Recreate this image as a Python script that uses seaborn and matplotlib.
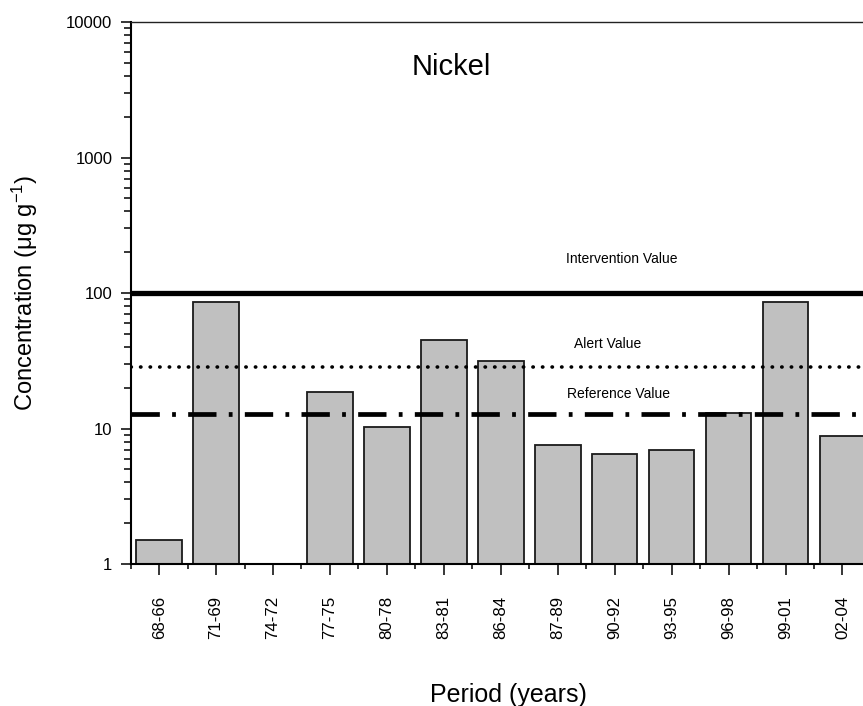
import numpy as np
import pandas as pd
import seaborn as sns
import matplotlib.pyplot as plt
from matplotlib.ticker import FixedLocator, LogLocator, NullFormatter

# data
periods = ['68-66', '71-69', '74-72', '77-75', '80-78', '83-81', '86-84',
           '87-89', '90-92', '93-95', '96-98', '99-01', '02-04']
nickel = [1.5, 86, np.nan, 18.7, 10.3, 45, 31.5, 7.55, 6.5, 7.0, 13.1, 86, 8.85]

intervention_value = 100
alert_value = 28.5
reference_value = 12.7

y_ticks = [1, 10, 100, 1000, 10000]
y_tick_labels = ['1', '10', '100', '1000', '10000']

df = pd.DataFrame({'period': periods, 'nickel': nickel})

sns.set_style('ticks')
plt.rcParams['font.family'] = ['Liberation Sans', 'DejaVu Sans']
plt.rcParams['mathtext.fontset'] = 'custom'
plt.rcParams['mathtext.rm'] = 'Liberation Sans'
plt.rcParams['mathtext.it'] = 'Liberation Sans:italic'
for key in ['text.color', 'axes.labelcolor', 'xtick.color', 'ytick.color']:
    plt.rcParams[key] = 'black'

fig = plt.figure(figsize=(8.63, 7.06), dpi=100)
ax = fig.add_axes([0.1514, 0.2011, 0.8578, 0.7677])

sns.barplot(data=df, x='period', y='nickel', order=periods, color='#c0c0c0',
            saturation=1, edgecolor='#1a1a1a', linewidth=1.3, width=0.8,
            errorbar=None, ax=ax, zorder=2)
ax.set_yscale('log')
ax.set_ylim(1, 10000)
ax.set_xlim(-0.5, len(periods) - 0.5)

# guideline values
ax.axhline(intervention_value, color='black', lw=3.8, zorder=3)
ax.axhline(alert_value, color='black', lw=2.6, linestyle=(0, (0.1, 2.55)),
           dash_capstyle='round', zorder=3)
ax.axhline(reference_value, color='black', lw=3.4,
           linestyle=(0, (6, 2.6, 0.8, 2.6)), dash_capstyle='butt', zorder=3)

ax.text(5.13, 4656, 'Nickel', fontsize=21, ha='center', va='center')
ax.text(8.13, 178, 'Intervention Value', fontsize=10, ha='center', va='center')
ax.text(7.87, 42, 'Alert Value', fontsize=10, ha='center', va='center')
ax.text(8.06, 18, 'Reference Value', fontsize=10, ha='center', va='center')

ax.set_yticks(y_ticks)
ax.set_yticklabels(y_tick_labels)
ax.yaxis.set_minor_locator(LogLocator(base=10, subs=np.arange(2, 10)))
ax.yaxis.set_minor_formatter(NullFormatter())
ax.xaxis.set_minor_locator(FixedLocator(np.arange(-0.5, len(periods), 1)))

ax.tick_params(axis='y', which='major', length=7.2, width=1.1, labelsize=12,
               pad=6, direction='out')
ax.tick_params(axis='y', which='minor', length=5, width=1.1, direction='out')
ax.tick_params(axis='x', which='major', length=8, width=1.1, labelsize=12.2,
               pad=15, labelrotation=90, direction='out')
ax.tick_params(axis='x', which='minor', length=3.6, width=1.1, direction='out')

ax.set_ylabel('Concentration (\u03bcg g$^{-1}$)', fontsize=17)
ax.set_xlabel('Period (years)', fontsize=18)
ax.yaxis.set_label_coords(-0.1225, 0.5)
ax.xaxis.set_label_coords(0.51, -0.219)

ax.spines['right'].set_visible(False)
ax.spines['top'].set_linewidth(1.0)
ax.spines['top'].set_color('#222222')
ax.spines['left'].set_linewidth(1.5)
ax.spines['bottom'].set_linewidth(1.5)
ax.spines['left'].set_color('black')
ax.spines['bottom'].set_color('black')

fig.savefig('out.png', dpi=100)
